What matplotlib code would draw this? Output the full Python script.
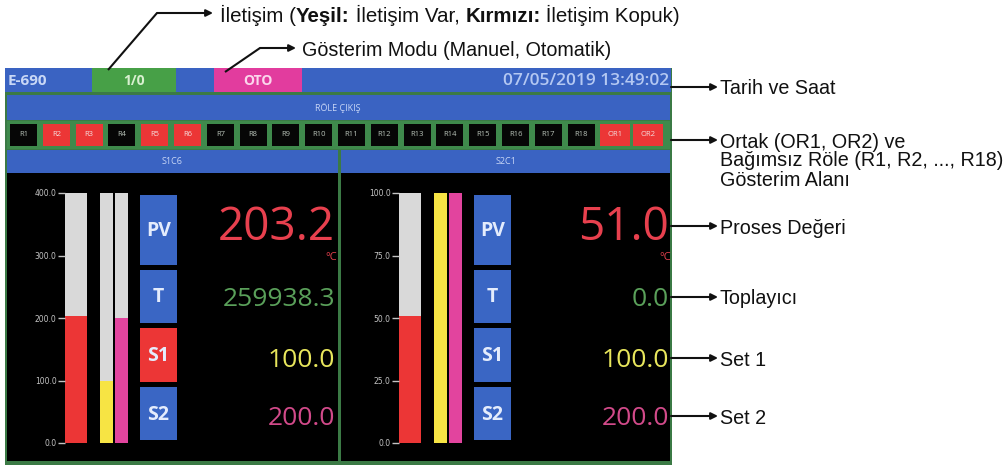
import numpy as np
import matplotlib.pyplot as plt
from matplotlib.patches import Rectangle
from matplotlib.ticker import FormatStrFormatter

W, H = 1008, 468

# header of the device screen
device_name = 'E-690'
comm_label = '1/0'
mode_label = 'OTO'
time_stamp = '07/05/2019 13:49:02'
relay_title = 'RÖLE ÇIKIŞ'

# relay outputs, True = on (red)
relay_names = ['R1', 'R2', 'R3', 'R4', 'R5', 'R6', 'R7', 'R8', 'R9', 'R10',
               'R11', 'R12', 'R13', 'R14', 'R15', 'R16', 'R17', 'R18', 'OR1', 'OR2']
relay_on = [False, True, True, False, True, True, False, False, False, False,
            False, False, False, False, False, False, False, False, True, True]

# two channels
channel_names = ['S1C6', 'S2C1']
scale_max = [400.0, 100.0]
pv_values = [203.2, 51.0]
total_values = [259938.3, 0.0]
set1_values = [100.0, 100.0]
set2_values = [200.0, 200.0]
unit = '°C'
tile_labels = ['PV', 'T', 'S1', 'S2']

# callouts on the right
notes = [(['Tarih ve Saat'], 87),
         (['Ortak (OR1, OR2) ve', 'Bağımsız Röle (R1, R2, ..., R18)', 'Gösterim Alanı'], 140),
         (['Proses Değeri'], 226),
         (['Toplayıcı'], 297),
         (['Set 1'], 358),
         (['Set 2'], 416)]
top_note = [('İletişim (', 'normal'), ('Yeşil:', 'bold'), (' İletişim Var, ', 'normal'),
            ('Kırmızı:', 'bold'), (' İletişim Kopuk)', 'normal')]
mode_note = 'Gösterim Modu (Manuel, Otomatik)'

BLUE = '#3a63c2'
FRAME = '#3b7a45'
RELAY_BG = '#3f8a4c'
TILE = '#3a66c4'
RED = '#ec3636'
SCR = 'Open Sans'
NOTE = 'Liberation Sans'
NOTE_SIZE = 14.2
INK = '#111111'

fig = plt.figure(figsize=(W / 100, H / 100), dpi=100)
fig.patch.set_facecolor('white')
bg = fig.add_axes([0, 0, 1, 1])
bg.set_xlim(0, W)
bg.set_ylim(H, 0)
bg.axis('off')


def box(x0, y0, x1, y1, color, z=1):
    bg.add_patch(Rectangle((x0, y0), x1 - x0, y1 - y0, facecolor=color,
                           edgecolor='none', zorder=z))


def px_axes(x0, y0, x1, y1):
    return fig.add_axes([x0 / W, 1 - y1 / H, (x1 - x0) / W, (y1 - y0) / H])


# screen skeleton
box(5, 68, 672, 465, FRAME)
box(5, 68, 671, 92, BLUE)
box(7, 95, 670, 120, BLUE)
box(7, 121, 670, 149, RELAY_BG)
box(7, 150, 338, 173, BLUE)
box(341, 150, 670, 173, BLUE)
box(7, 173, 338, 461, 'black')
box(341, 173, 670, 461, 'black')

# top bar
box(92, 68, 176, 92, '#47a047', 2)
box(214, 68, 302, 92, '#e23c9e', 2)
bg.text(8, 81, device_name, family=SCR, fontsize=11, color='#c9d8f6',
        va='center', ha='left', weight='bold', zorder=3)
bg.text(134, 81, comm_label, family=SCR, fontsize=10, color='#d8f0d0',
        va='center', ha='center', weight='bold', zorder=3)
bg.text(258, 81, mode_label, family=SCR, fontsize=10, color='#fbd6ec',
        va='center', ha='center', weight='bold', zorder=3)
bg.text(669, 81, time_stamp, family=SCR, fontsize=12.5, color='#b4c8f2',
        va='center', ha='right', weight='semibold', zorder=3)
bg.text(338, 108, relay_title, family=SCR, fontsize=6.5, color='#c8d6f6',
        va='center', ha='center', zorder=3)

# relay boxes
for i, (name, on) in enumerate(zip(relay_names, relay_on)):
    x0 = 10 + 32.8 * i
    w = 30 if name.startswith('OR') else 27
    box(x0, 124, x0 + w, 146, RED if on else '#060606', 2)
    bg.text(x0 + w / 2, 135, name, family=SCR, fontsize=5.5,
            color='#f4dede' if on else '#b8c2b8', ha='center', va='center', zorder=3)

# channel panels
panel_x = [6, 340]
tile_rows = [(195, 265), (270, 323), (328, 382), (387, 440)]
for k in range(len(channel_names)):
    ox = panel_x[k]
    vmax = scale_max[k]
    bg.text(ox + 166, 161, channel_names[k], family=SCR, fontsize=6.5,
            color='#c8d6f6', ha='center', va='center', zorder=3)

    ax = px_axes(ox + 59, 193, ox + 122, 443)
    ax.patch.set_alpha(0)
    pos = [11, 41.5, 56.5]
    widths = [22, 13, 13]
    ax.bar(pos, [vmax, vmax, vmax], width=widths, color='#d9d9d9')
    ax.bar(pos, [pv_values[k], set1_values[k], set2_values[k]], width=widths,
           color=[RED, '#f7e444', '#e2449e'])
    ax.set_xlim(0, 63)
    ax.set_ylim(0, vmax)
    for s in ax.spines.values():
        s.set_visible(False)
    ax.set_xticks([])
    ax.set_yticks(np.linspace(0, vmax, 5))
    ax.yaxis.set_major_formatter(FormatStrFormatter('%.1f'))
    ax.tick_params(axis='y', colors='#c4c4c4', labelsize=5.5, length=5, width=1, pad=1)

    alarm = pv_values[k] > set1_values[k]
    for j, (lab, (y0, y1)) in enumerate(zip(tile_labels, tile_rows)):
        color = RED if (lab == 'S1' and alarm) else TILE
        box(ox + 134, y0, ox + 171, y1, color, 2)
        bg.text(ox + 152.5, (y0 + y1) / 2 + 1, lab, family=SCR, fontsize=14,
                weight='bold', color='#e4ecfc', ha='center', va='center', zorder=3)

    rx = ox + 329
    bg.text(rx, 240, '%.1f' % pv_values[k], family=SCR, fontsize=33,
            color='#e8404e', ha='right', va='baseline', zorder=3)
    bg.text(rx + 2, 258, unit, family=SCR, fontsize=8,
            color='#e8404e', ha='right', va='center', zorder=3)
    bg.text(rx, 306, '%.1f' % total_values[k], family=SCR, fontsize=19,
            color='#5aa05a', ha='right', va='baseline', zorder=3)
    bg.text(rx, 367, '%.1f' % set1_values[k], family=SCR, fontsize=19,
            color='#e8e65c', ha='right', va='baseline', zorder=3)
    bg.text(rx, 425, '%.1f' % set2_values[k], family=SCR, fontsize=19,
            color='#d24a8a', ha='right', va='baseline', zorder=3)


def arrow(xs, ys):
    bg.plot(xs[:-1], ys[:-1], color=INK, lw=1.5, solid_capstyle='butt', zorder=5)
    bg.annotate('', xy=(xs[-1], ys[-1]), xytext=(xs[-2], ys[-2]),
                arrowprops=dict(arrowstyle='-|>', color=INK, lw=1.5,
                                mutation_scale=10, shrinkA=0, shrinkB=0), zorder=5)


# top callouts
arrow([108, 157, 213], [70, 13, 13])
t = bg.text(220, 13, top_note[0][0], family=NOTE, fontsize=14.8, color=INK,
            va='center_baseline', ha='left')
for part, wt in top_note[1:]:
    t = bg.annotate(part, xy=(1, 0), xycoords=t, family=NOTE, fontsize=14.8,
                    color=INK, weight=wt, va='bottom', ha='left')

arrow([225, 260, 296], [72, 48, 48])
bg.text(302, 48, mode_note, family=NOTE, fontsize=NOTE_SIZE, color=INK,
        va='center_baseline', ha='left')

# right callouts
for lines, y in notes:
    arrow([671, 718], [y, y])
    for n, line in enumerate(lines):
        bg.text(720, y + 19 * n, line, family=NOTE, fontsize=NOTE_SIZE, color=INK,
                va='center_baseline', ha='left')

fig.savefig('out.png', dpi=100, facecolor='white')
